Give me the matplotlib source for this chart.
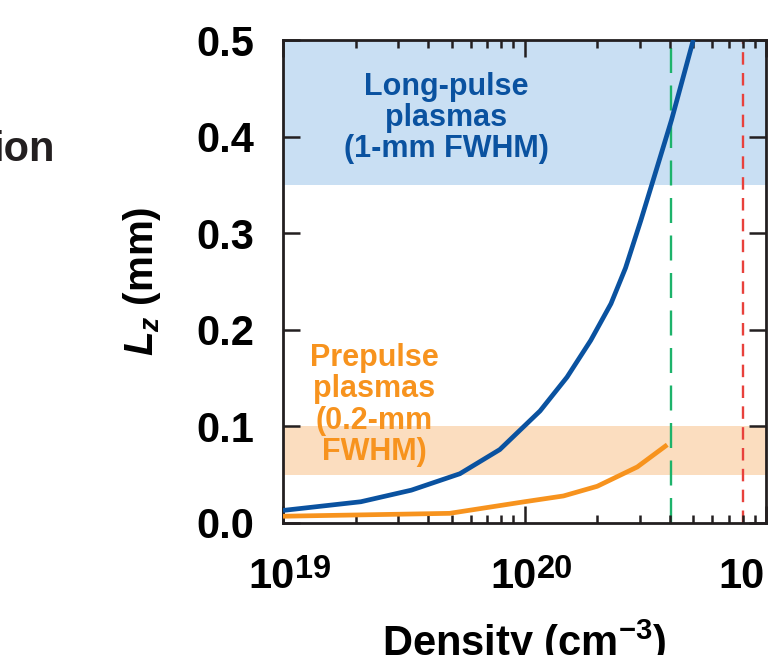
import matplotlib
matplotlib.use('Agg')
import matplotlib.pyplot as plt
from matplotlib.ticker import FixedLocator, LogLocator, NullFormatter

plt.rcParams['font.family'] = ['Liberation Sans', 'DejaVu Sans']
plt.rcParams['font.weight'] = 'bold'
plt.rcParams['mathtext.fontset'] = 'custom'
plt.rcParams['mathtext.rm'] = 'Liberation Sans:bold'
plt.rcParams['mathtext.bf'] = 'Liberation Sans:bold'
plt.rcParams['mathtext.it'] = 'Liberation Sans:bold:italic'
plt.rcParams['lines.scale_dashes'] = False

# long-pulse plasma curve (blue)
dens_long = [1e19, 2.1e19, 3.4e19, 5.4e19, 7.9e19, 1.16e20, 1.5e20, 1.88e20,
             2.28e20, 2.62e20, 3.03e20, 3.44e20, 4.06e20, 5e20]
lz_long = [0.013, 0.022, 0.034, 0.051, 0.076, 0.116, 0.151, 0.189,
           0.227, 0.264, 0.313, 0.358, 0.417, 0.500]

# prepulse plasma curve (orange)
dens_pre = [1e19, 4.9e19, 1e20, 1.45e20, 2e20, 2.93e20, 3.9e20]
lz_pre = [0.007, 0.010, 0.022, 0.028, 0.038, 0.058, 0.081]

# bands and reference densities
band_long = (0.35, 0.5)
band_pre = (0.05, 0.1)
n_green = 4.05e20
n_red = 8.0e20

yticks = [0.0, 0.1, 0.2, 0.3, 0.4, 0.5]
xticks = [1e19, 1e20, 1e21]
xexps = ['19', '20', '21']

BLUE = '#0A52A0'
ORANGE = '#F7931E'
INK = '#231F20'

fig = plt.figure(figsize=(7.68, 6.55), dpi=100)
ax = fig.add_axes([283/768, 1 - 523/655, (766 - 283)/768, (523 - 40)/655])

ax.axhspan(*band_long, color='#C9DFF3', lw=0, zorder=0)
ax.axhspan(*band_pre, color='#FBDDBF', lw=0, zorder=0)

ax.axvline(n_green, color='#1DB36B', lw=1.7, dashes=(18, 9), zorder=1)
ax.axvline(n_red, color='#E8413C', lw=1.7, dashes=(9, 6), zorder=1)

ax.plot(dens_long, lz_long, color=BLUE, lw=3.4, solid_capstyle='butt', solid_joinstyle='round', zorder=3)
ax.plot(dens_pre, lz_pre, color=ORANGE, lw=3.4, solid_capstyle='butt', solid_joinstyle='round', zorder=3)

ax.set_xscale('log')
ax.set_xlim(1e19, 1e21)
ax.set_ylim(0, 0.5)

ax.xaxis.set_major_locator(FixedLocator(xticks))
ax.xaxis.set_major_formatter(NullFormatter())
ax.xaxis.set_minor_locator(LogLocator(base=10, subs=range(2, 10)))
ax.xaxis.set_minor_formatter(NullFormatter())
ax.set_yticks(yticks)
ax.set_yticklabels(['%.1f' % v for v in yticks])

for s in ax.spines.values():
    s.set_linewidth(2)
    s.set_color(INK)
ax.tick_params(which='both', direction='in', top=True, right=True, color=INK, width=1.8)
ax.tick_params(which='major', length=12.5)
ax.tick_params(which='minor', length=6)
ax.tick_params(axis='y', labelsize=30, pad=21)

# x tick labels: "10" with a large superscript exponent
base_dx = [12, 12, -1]
exp_dx = [12, 12, 4]
for x, e, dx, ex in zip(xticks, xexps, base_dx, exp_dx):
    ax.annotate('10', xy=(x, 0), xycoords=('data', 'axes fraction'), xytext=(dx, -65),
                textcoords='offset pixels', ha='right', va='baseline', fontsize=30,
                fontweight='bold', color='black', annotation_clip=False)
    ax.annotate(e, xy=(x, 0), xycoords=('data', 'axes fraction'), xytext=(ex, -55),
                textcoords='offset pixels', ha='left', va='baseline', fontsize=23.5,
                fontweight='bold', color='black', annotation_clip=False)

ax.set_xlabel(r'Density (cm$^{-3}$)', fontsize=30, fontweight='bold', va='baseline')
ax.xaxis.set_label_coords(0.5, -133/483)
ax.set_ylabel(r'$L_z$ (mm)', fontsize=29, fontweight='bold')
ax.yaxis.set_label_coords(-0.249, 0.5)

ax.text(446/768, 1 - 118/655, 'Long-pulse\nplasmas\n(1-mm FWHM)', transform=fig.transFigure,
        ha='center', va='center', fontsize=22, fontweight='bold', color=BLUE, linespacing=1.05)
ax.text(374/768, 1 - 405/655, 'Prepulse\nplasmas\n(0.2-mm\nFWHM)', transform=fig.transFigure,
        ha='center', va='center', fontsize=22, fontweight='bold', color=ORANGE, linespacing=1.05)

fig.text(55/768, 1 - 161/655, 'ion', ha='right', va='baseline', fontsize=30,
         fontweight='bold', color=INK)

fig.savefig('out.png', dpi=100)
